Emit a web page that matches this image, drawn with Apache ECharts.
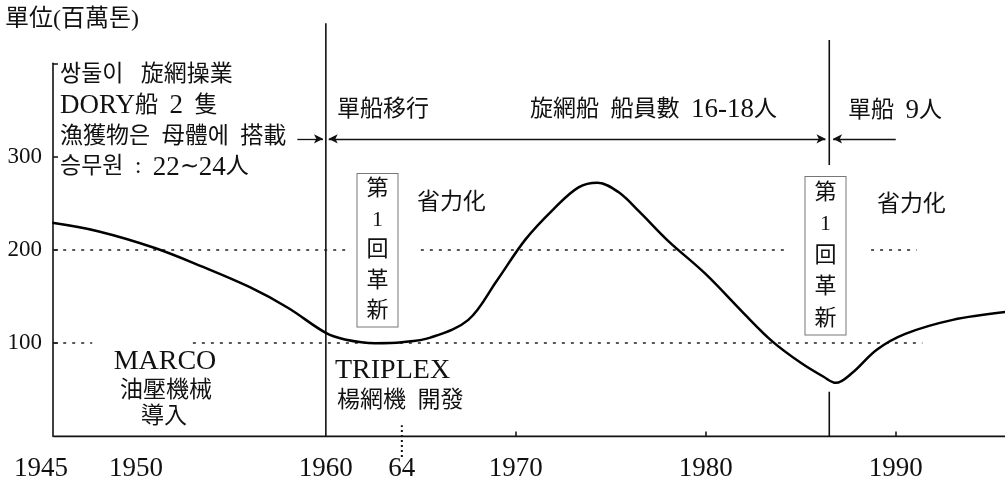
<!DOCTYPE html>
<html><head><meta charset="utf-8">
<script src="https://cdn.jsdelivr.net/npm/echarts@6/dist/echarts.min.js"></script>
<style>html,body{margin:0;padding:0;background:#fff}#c{width:1005px;height:485px}</style>
</head><body><div id="c"></div>
<script>
// ---- data ----
const curveYears  = [1945.6, 1948, 1951, 1953.5, 1956, 1958, 1960, 1961, 1962.6, 1964, 1965.5, 1967.5, 1969, 1970.5, 1972, 1973.3, 1974.3, 1975.4, 1976.5, 1978, 1980, 1982, 1983.5, 1985, 1986.2, 1986.85, 1987.7, 1989, 1990.5, 1993, 1995.8];
const curveValues = [229, 220, 202, 182, 160, 138, 111, 104, 100, 101, 106, 125, 167, 211, 244, 267, 272, 262, 241, 210, 174, 132, 102, 79, 64, 57.5, 68, 93, 110, 125, 133.5];

const xLabelYears = [1945, 1950, 1960, 1964, 1970, 1980, 1990];
const xLabelTexts = ['1945', '1950', '1960', '64', '1970', '1980', '1990'];
const xTickYears = [1970, 1980, 1990];
const yLabelValues = [100, 200, 300];
const yTickValues = [100, 200, 300, 400];

// event lines
const eventYears = [1960, 1986.5];
const eventSpans = [[[0, 443]], [[291, 425], [0, 48]]];
const markerYear = 1964;
const markerSpan = [-22, 12];

// dotted reference levels with their drawn spans (years)
const refLevels = [200, 100];
const refSpans = [
  [[1945.7, 1961.3], [1965.0, 1984.4], [1988.7, 1991.1]],
  [[1945.7, 1947.7], [1953.0, 1991.4]]
];
const arrowLevel = 319;
const axisStart = 1945.66, axisEnd = 1995.75;

const FONT = "'Liberation Serif', 'Noto Sans CJK KR', serif";
const INK = '#111';

const markData = [];
refLevels.forEach((lv, i) => refSpans[i].forEach(s => markData.push([
  {coord: [s[0], lv], symbol: 'none', lineStyle: {type: [3, 6], width: 1.6, color: '#222'}},
  {coord: [s[1], lv], symbol: 'none'}
])));
markData.push([
  {coord: [1958.5, arrowLevel], symbol: 'none', lineStyle: {type: 'solid', width: 1.3, color: INK}},
  {coord: [1959.85, arrowLevel], symbol: 'arrow'}
]);
markData.push([
  {coord: [1960.15, arrowLevel], symbol: 'arrow', lineStyle: {type: 'solid', width: 1.3, color: INK}},
  {coord: [1986.3, arrowLevel], symbol: 'arrow'}
]);
markData.push([
  {coord: [1990, arrowLevel], symbol: 'none', lineStyle: {type: 'solid', width: 1.3, color: INK}},
  {coord: [1986.7, arrowLevel], symbol: 'arrow'}
]);

const series = [{
  type: 'line',
  data: curveYears.map((y, i) => [y, curveValues[i]]),
  smooth: 0.35,
  symbol: 'none',
  lineStyle: {color: '#000', width: 2.5},
  z: 5,
  markLine: {silent: true, symbolSize: [7, 9], label: {show: false}, data: markData}
}, {
  type: 'line', data: [[axisStart, 0], [axisEnd, 0]], symbol: 'none', silent: true,
  lineStyle: {color: INK, width: 2}
}];
eventYears.forEach((yr, i) => eventSpans[i].forEach(sp => series.push({
  type: 'line', clip: false, symbol: 'none', silent: true,
  data: [[yr, sp[0]], [yr, sp[1]]], lineStyle: {color: INK, width: 1.6}
})));
series.push({
  type: 'line', clip: false, symbol: 'none', silent: true,
  data: [[markerYear, markerSpan[0]], [markerYear, markerSpan[1]]],
  lineStyle: {color: INK, width: 2, type: [2, 3]}
});

function txt(text, x, y, size, extra, latinSize, lh) {
  const st = {text: text, fontSize: size, fontFamily: FONT, fill: INK,
    align: 'left', verticalAlign: 'middle'};
  if (lh) st.lineHeight = lh;
  st.rich = {L: {fontSize: latinSize || size + 4, fontFamily: "'Liberation Serif', serif", fill: INK, lineHeight: lh}};
  return {type: 'text', x: x, y: y, silent: true, style: Object.assign(st, extra || {})};
}
const graphic = [
  txt('單位(百萬톤)', 5, 20, 24),
  txt('쌍둘이   旋網操業\n{L|DORY}船  {L|2}  隻\n漁獲物은  母體에  搭載\n승무원  :  {L|22}∼{L|24}人', 60, 60, 23,
      {verticalAlign: 'top'}, 27, 30.7),
  txt('單船移行', 337, 110, 23),
  txt('旋網船  船員數  {L|16-18}人', 530, 110, 23, null, 27),
  txt('單船  {L|9}人', 848, 111, 23, null, 27),
  txt('省力化', 417, 203, 23),
  txt('省力化', 877, 205, 23),
  txt('第\n1\n回\n革\n新', 377.5, 174, 22, {align: 'center', verticalAlign: 'top',
    padding: [0, 9], borderColor: '#777', borderWidth: 1, backgroundColor: '#fff'}, 24, 30.5),
  txt('第\n1\n回\n革\n新', 825.5, 177, 22, {align: 'center', verticalAlign: 'top',
    padding: [0, 9], borderColor: '#777', borderWidth: 1, backgroundColor: '#fff'}, 24, 31.5),
  txt('MARCO', 165, 362, 28, {align: 'center'}),
  txt('油壓機械', 166, 391, 23, {align: 'center'}),
  txt('導入', 164, 417, 23, {align: 'center'}),
  txt('TRIPLEX', 335, 371, 28),
  txt('楊網機  開發', 337, 401, 23)
];

const chart = echarts.init(document.getElementById('c'), null, {renderer: 'canvas'});
chart.setOption({
  animation: false,
  backgroundColor: '#fff',
  grid: {left: 20, right: 0, top: 63.3, bottom: 48.5, containLabel: false, outerBoundsMode: 'none'},
  xAxis: {
    type: 'value', min: 1943.9, max: 1995.75,
    axisLine: {show: false}, splitLine: {show: false},
    axisTick: {show: true, inside: true, length: 5, customValues: xTickYears, lineStyle: {color: INK, width: 1.5}},
    axisLabel: {customValues: xLabelYears, formatter: v => xLabelTexts[xLabelYears.indexOf(v)] || '',
      fontSize: 27, fontFamily: FONT, color: INK, margin: 19}
  },
  yAxis: {
    type: 'value', min: 0, max: 400, offset: -33,
    axisLine: {show: true, lineStyle: {color: INK, width: 1.6}},
    axisTick: {show: true, inside: true, length: 5, customValues: yTickValues, lineStyle: {color: INK, width: 1.5}},
    axisLabel: {customValues: yLabelValues, fontSize: 23, fontFamily: FONT, color: INK, margin: 11},
    splitLine: {show: false}
  },
  graphic: graphic,
  series: series
});
</script></body></html>
